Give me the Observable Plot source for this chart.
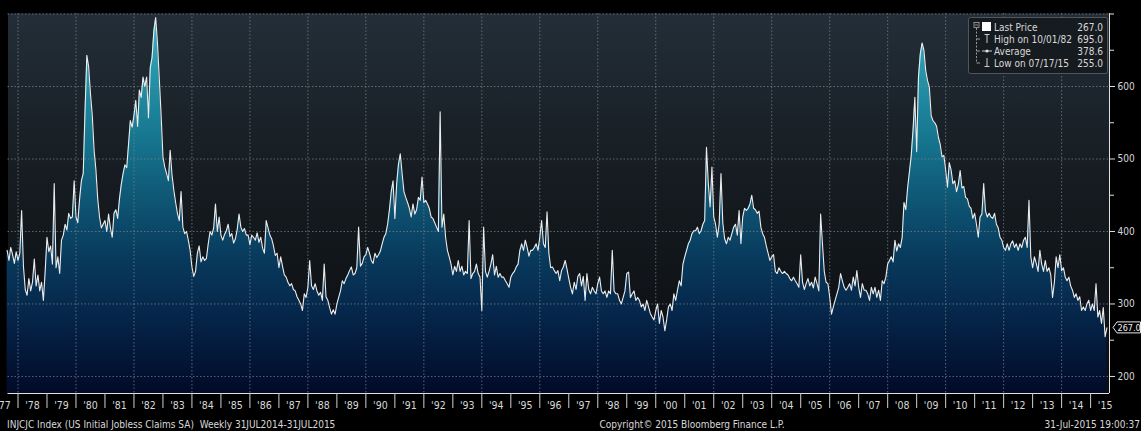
<!DOCTYPE html>
<html><head><meta charset="utf-8">
<script src="https://cdn.jsdelivr.net/npm/d3@7"></script>
<script src="https://cdn.jsdelivr.net/npm/@observablehq/plot@0.6"></script>
<style>
html,body{margin:0;padding:0;background:#000;overflow:hidden;}
#chart svg{display:block;}
</style></head><body><div id="chart"></div>
<script>
// Weekly initial jobless claims (thousands), sampled 16 times per year, first sample at 1977 + 10/16
const firstSample = 1977.625;
const samplesPerYear = 16;
const claims1977to1979 = [
  374, 360, 378, 368, 356, 372,
  360, 370, 429, 352, 320, 312, 335, 318, 330, 362, 325, 340, 318, 330, 305, 345,
  392, 372, 380, 355, 466, 350, 365, 342, 388, 395, 410, 402, 425, 418, 420, 470
];
const claims1980s = [
  420, 412, 445, 470, 480, 567, 643, 627, 590, 560, 512, 485, 445, 420, 405, 410,
  415, 400, 424, 405, 392, 425, 430, 418, 445, 465, 480, 492, 488, 520, 553, 544,
  560, 581, 545, 595, 585, 613, 600, 613, 557, 626, 640, 677, 695, 659, 610, 560,
  503, 489, 480, 470, 512, 478, 457, 440, 425, 415, 455, 406, 397, 400, 388, 374,
  351, 338, 345, 370, 380, 358, 365, 360, 363, 383, 400, 395, 405, 438, 400, 420,
  395, 388, 396, 401, 410, 393, 397, 384, 390, 403, 424, 406, 400, 404, 395, 395,
  382, 395, 392, 388, 398, 385, 392, 377, 370, 415, 405, 395, 390, 380, 367, 370,
  350, 365, 352, 340, 337, 330, 325, 328, 320, 318, 310, 305, 300, 291, 314, 309,
  323, 360, 325, 320, 328, 318, 312, 316, 305, 355, 310, 305, 295, 286, 292, 286,
  300, 309, 318, 332, 328, 335, 340, 346, 351, 340, 342, 350, 406, 352, 356, 365
];
const claims1990s = [
  368, 378, 370, 360, 356, 370, 364, 368, 373, 383, 392, 397, 410, 430, 455, 470,
  418, 466, 493, 507, 480, 455, 447, 440, 432, 420, 438, 424, 430, 447, 443, 475,
  440, 443, 438, 432, 420, 418, 412, 406, 400, 565, 406, 424, 392, 374, 365, 355,
  340, 352, 345, 360, 345, 352, 340, 345, 342, 415, 335, 342, 345, 355, 342, 337,
  291, 406, 345, 337, 345, 355, 368, 340, 352, 337, 342, 337, 337, 332, 328, 323,
  337, 342, 345, 351, 355, 374, 383, 374, 388, 378, 366, 374, 374, 378, 383, 374,
  392, 415, 383, 378, 427, 370, 350, 351, 346, 342, 346, 332, 346, 351, 360, 348,
  335, 323, 314, 330, 320, 338, 342, 325, 338, 305, 342, 320, 314, 323, 318, 314,
  328, 337, 318, 314, 318, 309, 318, 314, 374, 318, 314, 314, 305, 300, 309, 318,
  342, 344, 309, 314, 318, 305, 309, 305, 296, 300, 291, 305, 296, 287, 282, 278
];
const claims2000s = [
  291, 300, 273, 291, 282, 263, 278, 296, 300, 291, 314, 305, 319, 332, 325, 355,
  365, 374, 383, 388, 397, 401, 401, 406, 397, 401, 410, 415, 516, 466, 434, 489,
  420, 410, 392, 410, 480, 412, 390, 383, 392, 388, 397, 406, 410, 395, 429, 383,
  420, 432, 429, 432, 438, 450, 432, 430, 425, 428, 406, 397, 392, 380, 370, 360,
  365, 368, 345, 342, 350, 345, 342, 345, 342, 340, 335, 332, 337, 332, 328, 323,
  368, 330, 320, 328, 335, 325, 330, 322, 337, 328, 318, 424, 383, 345, 330, 328,
  310, 286, 296, 305, 314, 323, 342, 332, 323, 319, 323, 328, 319, 337, 325, 346,
  323, 309, 328, 319, 319, 314, 305, 323, 314, 323, 309, 319, 305, 332, 328, 337,
  355, 360, 365, 358, 388, 373, 383, 378, 392, 440, 430, 460, 482, 505, 540, 585,
  510, 613, 645, 660, 650, 622, 608, 599, 560, 553, 550, 545, 530, 520, 503, 505
];
const claims2010s = [
  485, 461, 495, 485, 466, 470, 455, 465, 484, 460, 462, 447, 445, 435, 432, 418,
  425, 410, 392, 420, 424, 466, 428, 420, 425, 420, 418, 425, 410, 405, 392, 388,
  378, 374, 383, 374, 383, 387, 378, 383, 374, 383, 378, 388, 392, 378, 443, 365,
  350, 365, 356, 345, 374, 355, 345, 360, 345, 350, 340, 309, 330, 365, 350, 368,
  346, 350, 337, 332, 337, 325, 319, 309, 314, 305, 310, 291, 296, 291, 300, 305,
  291, 300, 291, 328, 282, 291, 273, 295, 255, 267
];
const years = d3.range(1977, 2016);
const yMajorTicks = [200, 300, 400, 500, 600];
const yMinorTicks = [250, 350, 450, 550, 650, 700];
const gridYears = d3.range(1978, 2016, 2);
const legendRows = [
  {label: "Last Price", value: "267.0"},
  {label: "High on 10/01/82", value: "695.0"},
  {label: "Average", value: "378.6"},
  {label: "Low on 07/17/15", value: "255.0"}
];
const lastValue = 267.0;
const footerLeft = "INJCJC Index (US Initial Jobless Claims SA)  Weekly 31JUL2014-31JUL2015";
const footerMid = "Copyright\u00a9 2015 Bloomberg Finance L.P.";
const footerRight = "31-Jul-2015 19:00:37";

const values = [].concat(claims1977to1979, claims1980s, claims1990s, claims2000s, claims2010s);
const data = values.map((v, i) => ({t: firstSample + i / samplesPerYear, v}));

const yMin = 176.5, yMax = 700.7;
const xMin = 1977.655, xMax = 2015.652;
const FONT = "'DejaVu Sans Condensed', 'Liberation Sans', sans-serif";
const TXT = "#d8d8d8";

function defs(index, scales, values, dim) {
  const g = d3.create("svg:g");
  const d = g.append("defs");
  const top = dim.marginTop, bot = dim.height - dim.marginBottom;
  const bg = d.append("linearGradient").attr("id", "bgGrad")
    .attr("gradientUnits", "userSpaceOnUse").attr("x1", 0).attr("x2", 0).attr("y1", top).attr("y2", bot);
  [[0, "#232e38"], [0.45, "#151b20"], [1, "#0b0d10"]].forEach(([o, c]) =>
    bg.append("stop").attr("offset", o).attr("stop-color", c));
  const ar = d.append("linearGradient").attr("id", "areaGrad")
    .attr("gradientUnits", "userSpaceOnUse").attr("x1", 0).attr("x2", 0).attr("y1", top).attr("y2", bot);
  [[0, "#46b6c5"], [0.15, "#2596ab"], [0.35, "#15728c"], [0.5, "#0e5473"], [0.65, "#08395c"], [0.8, "#052549"], [1, "#020a28"]]
    .forEach(([o, c]) => ar.append("stop").attr("offset", o).attr("stop-color", c));
  return g.node();
}

function legend(index, scales, values, dim) {
  const g = d3.create("svg:g").attr("font-family", FONT).attr("text-anchor", "start");
  const right = dim.width - dim.marginRight;
  const x0 = right - 140.5, y0 = 17.5;
  g.append("rect").attr("x", x0).attr("y", y0).attr("width", 139).attr("height", 56).attr("rx", 2)
    .attr("fill", "#161b20").attr("stroke", "#50565c");
  const ix = x0 + 5.5;
  g.append("rect").attr("x", ix).attr("y", 22.5).attr("width", 5).attr("height", 5).attr("fill", "none").attr("stroke", "#aaa").attr("stroke-width", 0.8);
  g.append("line").attr("x1", ix + 1).attr("x2", ix + 4).attr("y1", 25).attr("y2", 25).attr("stroke", "#aaa").attr("stroke-width", 0.8);
  g.append("rect").attr("x", ix + 8).attr("y", 22).attr("width", 9).attr("height", 9).attr("fill", "#fff");
  g.append("line").attr("x1", ix + 2.5).attr("x2", ix + 2.5).attr("y1", 28).attr("y2", 63).attr("stroke", "#999").attr("stroke-dasharray", "2,1.5");
  [39, 51, 63].forEach(y => g.append("line").attr("x1", ix + 2.5).attr("x2", ix + 6).attr("y1", y).attr("y2", y).attr("stroke", "#999"));
  const cx = ix + 13;
  g.append("line").attr("x1", cx - 2.5).attr("x2", cx + 2.5).attr("y1", 34.5).attr("y2", 34.5).attr("stroke", "#ccc");
  g.append("line").attr("x1", cx).attr("x2", cx).attr("y1", 34.5).attr("y2", 43).attr("stroke", "#ccc");
  g.append("line").attr("x1", cx - 5).attr("x2", cx + 5).attr("y1", 51).attr("y2", 51).attr("stroke", "#ccc");
  g.append("circle").attr("cx", cx).attr("cy", 51).attr("r", 1.6).attr("fill", "#ddd");
  g.append("line").attr("x1", cx).attr("x2", cx).attr("y1", 58).attr("y2", 66.5).attr("stroke", "#ccc");
  g.append("line").attr("x1", cx - 2.5).attr("x2", cx + 2.5).attr("y1", 66.5).attr("y2", 66.5).attr("stroke", "#ccc");
  legendRows.forEach((r, i) => {
    const by = 30.5 + i * 12;
    g.append("text").attr("x", x0 + 25.5).attr("y", by).attr("fill", TXT).attr("font-size", 10).attr("text-anchor", "start").text(r.label);
    g.append("text").attr("x", right - 6).attr("y", by).attr("fill", TXT).attr("font-size", 10).attr("text-anchor", "end").text(r.value);
  });
  return g.node();
}

function lastTag(index, scales, values, dim) {
  const g = d3.create("svg:g").attr("font-family", FONT);
  const y = scales.y(lastValue);
  const x = dim.width - dim.marginRight + 4;
  const h = 11, w = 27.5;
  g.append("path")
    .attr("d", `M${x},${y} L${x + 4},${y - h / 2} L${x + w},${y - h / 2} L${x + w},${y + h / 2} L${x + 4},${y + h / 2} Z`)
    .attr("fill", "#000").attr("stroke", "#e8e8e8").attr("stroke-width", 1);
  g.append("text").attr("x", x + 4.5).attr("y", y + 3.5).attr("text-anchor", "start").attr("fill", "#f0f0f0").attr("font-size", 9).text(lastValue.toFixed(1));
  return g.node();
}

function footer(index, scales, values, dim) {
  const g = d3.create("svg:g").attr("font-family", FONT).attr("font-size", 10).attr("fill", TXT);
  const by = dim.height - 3;
  g.append("text").attr("x", 7).attr("y", by).attr("text-anchor", "start").text(footerLeft);
  g.append("text").attr("x", 692).attr("y", by).attr("text-anchor", "middle").text(footerMid);
  g.append("text").attr("x", dim.width - 1).attr("y", by).attr("text-anchor", "end").text(footerRight);
  return g.node();
}

const chart = Plot.plot({
  width: 1141,
  height: 431,
  marginLeft: 7.5,
  marginRight: 32,
  marginTop: 13,
  marginBottom: 38,
  style: {background: "#000", color: TXT, fontFamily: FONT, fontSize: "10.5px"},
  x: {domain: [xMin, xMax], axis: null},
  y: {domain: [yMin, yMax], axis: null},
  marks: [
    defs,
    Plot.frame({fill: "url(#bgGrad)", stroke: null}),
    Plot.areaY(data, {x: "t", y1: yMin, y2: "v", fill: "url(#areaGrad)"}),
    Plot.gridY(yMajorTicks.concat([700]), {stroke: "#7a8189", strokeOpacity: 0.75, strokeDasharray: "1.5,2"}),
    Plot.gridX(gridYears, {stroke: "#7a8189", strokeOpacity: 0.75, strokeDasharray: "1.5,2"}),
    Plot.lineY(data, {x: "t", y: "v", stroke: "#ececec", strokeWidth: 1.1}),
    Plot.ruleY([yMin], {stroke: "#e0e0e0", strokeWidth: 1}),
    Plot.ruleX([xMax], {stroke: "#e0e0e0", strokeWidth: 1}),
    Plot.axisX({ticks: years.filter(y => y > xMin), tickSize: 15, tickFormat: () => "", stroke: "#d0d0d0", label: null}),
    Plot.axisX({ticks: years.map(y => y + 0.5), tickSize: 0, tickPadding: 8, tickFormat: d => "'" + String(Math.floor(d)).slice(2), fill: TXT, fontSize: 10.5, label: null}),
    Plot.axisY({anchor: "right", ticks: yMajorTicks, tickSize: 5, tickPadding: 3, tickFormat: d => String(d), fill: TXT, fontSize: 10, label: null, stroke: "#e0e0e0"}),
    Plot.axisY({anchor: "right", ticks: yMinorTicks, tickSize: 4, tickFormat: () => "", label: null, stroke: "#e0e0e0"}),
    legend,
    lastTag,
    footer
  ]
});
document.getElementById("chart").append(chart);
</script>
</body></html>
